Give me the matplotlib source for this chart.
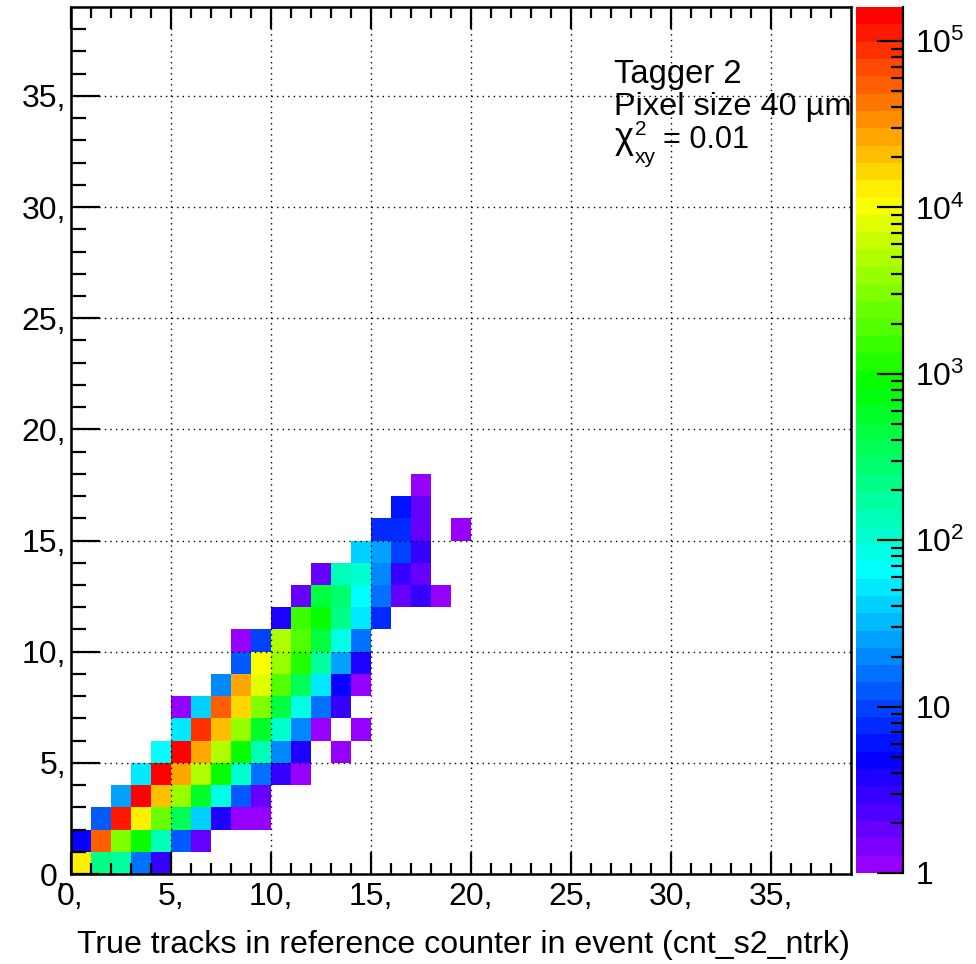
import numpy as np
import matplotlib
matplotlib.use("Agg")
import matplotlib.pyplot as plt
from matplotlib.colors import LogNorm, ListedColormap, hsv_to_rgb
from matplotlib.ticker import FixedLocator, FixedFormatter, NullFormatter

plt.rcParams['font.family'] = ['Liberation Sans', 'DejaVu Sans']
plt.rcParams['mathtext.fontset'] = 'custom'
plt.rcParams['mathtext.rm'] = 'Liberation Sans'
plt.rcParams['mathtext.it'] = 'Liberation Sans'
plt.rcParams['mathtext.default'] = 'regular'

# counts per row: (first x bin, values of consecutive x bins; 0 = empty)
row_00 = (0, [12800, 220, 172, 16, 3])
row_01 = (0, [5, 53000, 3040, 920, 135, 12, 2])
row_02 = (1, [12, 110000, 12800, 2400, 355, 41, 4, 1, 1])
row_03 = (2, [25, 140000, 20600, 3850, 570, 84, 12, 2])
row_04 = (3, [52, 140000, 26000, 4900, 920, 107, 16, 3, 1])
row_05 = (4, [66, 140000, 26000, 4900, 920, 135, 20, 4, 0, 1])
row_06 = (5, [52, 86000, 20600, 3850, 570, 107, 20, 1, 0, 1])
row_07 = (5, [1, 41, 53000, 16200, 3040, 450, 84, 16, 3])
row_08 = (7, [20, 26000, 7900, 1880, 355, 52, 5, 1])
row_09 = (8, [12, 10000, 3850, 1170, 172, 25, 4])
row_10 = (8, [1, 10, 4900, 1880, 450, 84, 16])
row_11 = (10, [4, 1480, 920, 220, 52, 8])
row_12 = (11, [2, 450, 280, 66, 16, 2, 3, 1])
row_13 = (12, [2, 135, 107, 20, 3, 2])
row_14 = (14, [41, 25, 10, 3])
row_15 = (15, [8, 7, 2, 0, 1])
row_16 = (16, [6, 2])
row_17 = (17, [1])
rows = [row_00, row_01, row_02, row_03, row_04, row_05, row_06, row_07, row_08,
        row_09, row_10, row_11, row_12, row_13, row_14, row_15, row_16, row_17]

n_bins = 39
z_min, z_max = 1, 160000
axis_ticks = [0, 5, 10, 15, 20, 25, 30, 35]
axis_labels = ['0,', '5,', '10,', '15,', '20,', '25,', '30,', '35,']
cbar_ticks = [1, 10, 100, 1000, 10000, 100000]
cbar_labels = ['1', '10', '$10^{2}$', '$10^{3}$', '$10^{4}$', '$10^{5}$']
x_title = 'True tracks in reference counter in event (cnt_s2_ntrk)'

grid = np.full((n_bins, n_bins), np.nan)
for j, (start, vals) in enumerate(rows):
    for k, v in enumerate(vals):
        if v > 0:
            grid[j, start + k] = v

hues = np.linspace(275, 0, 50) / 360
cmap = ListedColormap(hsv_to_rgb(np.column_stack([hues, np.ones(50), np.ones(50)])))

W, H = 976, 964
fig = plt.figure(figsize=(W / 100, H / 100), dpi=100, facecolor='white')
ax = fig.add_axes([70.5 / W, 1 - 874 / H, (851 - 70.5) / W, (874 - 7) / H])
edges = np.arange(n_bins + 1)
mesh = ax.pcolormesh(edges, edges, grid, cmap=cmap, norm=LogNorm(z_min, z_max),
                     antialiased=False, zorder=1)
ax.set_xlim(0, n_bins)
ax.set_ylim(0, n_bins)

ax.set_xticks(axis_ticks)
ax.set_xticklabels(axis_labels)
ax.set_yticks(axis_ticks)
ax.set_yticklabels(axis_labels)
ax.set_xticks(np.arange(n_bins), minor=True)
ax.set_yticks(np.arange(n_bins), minor=True)
ax.tick_params(axis='x', which='major', direction='in', top=True, length=16, width=1.6, labelsize=23, pad=6)
ax.tick_params(axis='x', which='minor', direction='in', top=True, length=8, width=1.6)
ax.tick_params(axis='y', which='major', direction='in', length=21, width=1.6, labelsize=23, pad=3)
ax.tick_params(axis='y', which='minor', direction='in', length=11, width=1.6)
ax.set_axisbelow(False)
ax.grid(True, which='major', color='black', lw=1.0, ls=(0, (1, 3)), zorder=3)
for s in ax.spines.values():
    s.set_linewidth(1.8)
ax.set_xlabel(x_title, fontsize=23.1, labelpad=13, x=0.5035)

ax.text(27.15, 35.6, 'Tagger 2', fontsize=23.6, va='baseline', zorder=5)
ax.text(27.15, 34.15, 'Pixel size 40 µm', fontsize=23.4, va='baseline', zorder=5)
ax.text(27.15, 32.65, r'$\chi$', fontsize=26, va='baseline', zorder=5)
ax.text(28.2, 33.25, '2', fontsize=15, va='baseline', zorder=5)
ax.text(28.2, 32.0, 'xy', fontsize=15, va='baseline', zorder=5)
ax.text(29.6, 32.65, '= 0.01', fontsize=22, va='baseline', zorder=5)

cax = fig.add_axes([856 / W, 1 - 873 / H, (903 - 856) / W, (873 - 7) / H])
cb = fig.colorbar(mesh, cax=cax, drawedges=False)
cb.solids.set_antialiased(False)
cb.outline.set_visible(False)
cax.yaxis.set_major_locator(FixedLocator(cbar_ticks))
cax.yaxis.set_major_formatter(FixedFormatter(cbar_labels))
minor = [m * 10 ** e for e in range(6) for m in range(2, 10) if m * 10 ** e < z_max]
cax.yaxis.set_minor_locator(FixedLocator(minor))
cax.yaxis.set_minor_formatter(NullFormatter())
cax.tick_params(axis='y', which='major', direction='in', right=True, length=19, width=1.6, labelsize=23, pad=9)
cax.tick_params(axis='y', which='minor', direction='in', right=True, length=9, width=1.6)
for s in cax.spines.values():
    s.set_visible(False)
cax.spines['right'].set_visible(True)
cax.spines['right'].set_linewidth(1.6)

fig.savefig('out.png', dpi=100)
